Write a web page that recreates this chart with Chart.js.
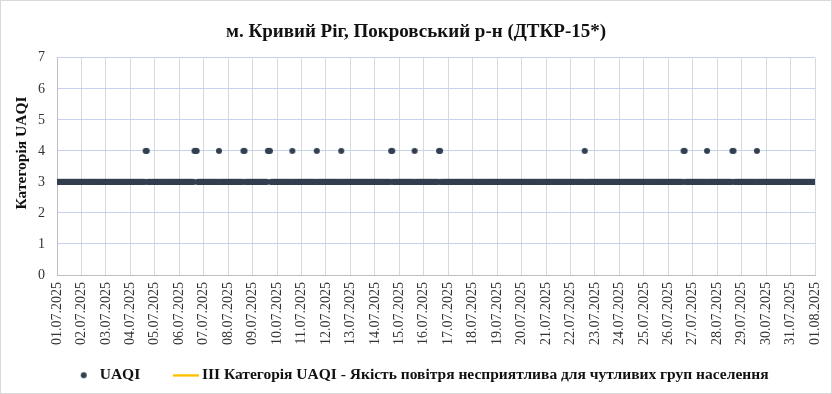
<!DOCTYPE html>
<html>
<head>
<meta charset="utf-8">
<script src="https://cdn.jsdelivr.net/npm/chart.js@4.4.1/dist/chart.umd.min.js"></script>
<style>
  body { margin: 0; background: #fff; }
  #wrap { width: 832px; height: 394px; box-sizing: border-box; border: 1px solid #d9d9d9; }
</style>
</head>
<body>
<div id="wrap"><canvas id="myChart" width="830" height="392"></canvas></div>
<script>
// tick labels of the x axis, one per day (00:00)
const dateLabels = [
  '01.07.2025', '02.07.2025', '03.07.2025', '04.07.2025', '05.07.2025', '06.07.2025',
  '07.07.2025', '08.07.2025', '09.07.2025', '10.07.2025', '11.07.2025', '12.07.2025',
  '13.07.2025', '14.07.2025', '15.07.2025', '16.07.2025', '17.07.2025', '18.07.2025',
  '19.07.2025', '20.07.2025', '21.07.2025', '22.07.2025', '23.07.2025', '24.07.2025',
  '25.07.2025', '26.07.2025', '27.07.2025', '28.07.2025', '29.07.2025', '30.07.2025',
  '31.07.2025', '01.08.2025'
];

// hourly UAQI category, one string of 24 hours per day (00..23)
const uaqiByDay = [
  '333333333333333333333333', // 01.07
  '333333333333333333333333', // 02.07
  '333333333333333333333333', // 03.07
  '333333333333333443333333', // 04.07
  '333333333333333333333333', // 05.07
  '333333333333333444333333', // 06.07
  '333333333333333433333333', // 07.07
  '333333333333333443333333', // 08.07
  '333333333333333444333333', // 09.07
  '333333333333333433333333', // 10.07
  '333333333333333433333333', // 11.07
  '333333333333333433333333', // 12.07
  '333333333333333333333333', // 13.07
  '333333333333333344333333', // 14.07
  '333333333333333433333333', // 15.07
  '333333333333333443333333', // 16.07
  '333333333333333333333333', // 17.07
  '333333333333333333333333', // 18.07
  '333333333333333333333333', // 19.07
  '333333333333333333333333', // 20.07
  '333333333333333333333333', // 21.07
  '333333333333334333333333', // 22.07
  '333333333333333333333333', // 23.07
  '333333333333333333333333', // 24.07
  '333333333333333333333333', // 25.07
  '333333333333333443333333', // 26.07
  '333333333333334333333333', // 27.07
  '333333333333333443333333', // 28.07
  '333333333333333433333333', // 29.07
  '333333333333333333333333', // 30.07
  '333333333333333333333333'  // 31.07
];
const uaqiLast = 3; // 01.08 00:00

// III category threshold line
const thresholdValue = 3;

const seriesNames = ['UAQI', 'III Категорія UAQI - Якість повітря несприятлива для чутливих груп населення'];
const chartTitle = 'м. Кривий Ріг, Покровський р-н (ДТКР-15*)';
const yTitle = 'Категорія UAQI';

const uaqiPoints = [];
uaqiByDay.forEach(function (day, d) {
  for (let h = 0; h < day.length; h++) {
    uaqiPoints.push({ x: d * 24 + h, y: Number(day[h]) });
  }
});
uaqiPoints.push({ x: uaqiByDay.length * 24, y: uaqiLast });

const lastHour = (dateLabels.length - 1) * 24;

// legend markers
function dotIcon() {
  const c = document.createElement('canvas');
  c.width = 8; c.height = 8;
  const g = c.getContext('2d');
  g.fillStyle = '#333f50';
  g.beginPath(); g.arc(4, 4, 3, 0, Math.PI * 2); g.fill();
  return c;
}
function lineIcon() {
  const c = document.createElement('canvas');
  c.width = 26; c.height = 4;
  const g = c.getContext('2d');
  g.fillStyle = '#ffc000';
  g.fillRect(0, 1, 26, 2.5);
  return c;
}

const serif = '"Liberation Serif", "Times New Roman", serif';

// y axis title, placed a bit above the middle like the original
const yTitlePlugin = {
  id: 'yTitle',
  afterLayout: function (chart) {
    // legend sits a little right of centre in the original
    chart.legend.left += 6;
    chart.legend.right += 6;
  },
  afterDraw: function (chart) {
    const c = chart.ctx;
    c.save();
    c.translate(21, 152);
    c.rotate(-Math.PI / 2);
    c.font = 'bold 15.5px ' + serif;
    c.fillStyle = '#111';
    c.textAlign = 'center';
    c.textBaseline = 'middle';
    c.fillText(yTitle, 0, 0);
    c.restore();
  }
};

const ctx = document.getElementById('myChart');
new Chart(ctx, {
  type: 'line',
  data: {
    datasets: [{
      label: seriesNames[0],
      data: uaqiPoints,
      showLine: false,
      pointRadius: 3,
      pointHoverRadius: 3,
      pointBorderWidth: 0,
      pointBackgroundColor: '#333f50',
      borderColor: '#333f50',
      pointStyle: dotIcon()
    }, {
      label: seriesNames[1],
      data: [{ x: 0, y: thresholdValue }, { x: lastHour, y: thresholdValue }],
      borderColor: '#ffc000',
      borderWidth: 2.5,
      pointRadius: 0,
      pointStyle: lineIcon()
    }]
  },
  options: {
    responsive: false,
    animation: false,
    layout: { padding: 0 },
    plugins: {
      title: {
        display: true,
        text: chartTitle,
        color: '#111',
        font: { family: serif, size: 19, weight: 'bold' },
        padding: { top: 20, bottom: 14 }
      },
      legend: {
        position: 'bottom',
        labels: {
          usePointStyle: true,
          pointStyleWidth: 16.5,
          color: '#111',
          font: { family: serif, size: 15.5, weight: 'bold' },
          padding: 22,
          generateLabels: function (chart) {
            const items = Chart.defaults.plugins.legend.labels.generateLabels(chart);
            items[0].text = items[0].text + '\u2002\u2002'; // wider gap after the first entry
            return items;
          }
        }
      },
      tooltip: { enabled: false }
    },
    scales: {
      x: {
        type: 'linear',
        min: 0,
        max: lastHour,
        afterBuildTicks: function (scale) {
          scale.ticks = dateLabels.map(function (l, i) { return { value: i * 24 }; });
        },
        afterFit: function (scale) {
          scale.height = 70.5;
          scale.paddingLeft = 0;
          scale.paddingRight = 16;
        },
        ticks: {
          autoSkip: false,
          maxRotation: 90,
          minRotation: 90,
          padding: 7,
          color: '#333',
          font: { family: serif, size: 14 },
          callback: function (v) { return dateLabels[Math.round(v / 24)]; }
        },
        grid: { color: '#d9d9d9', drawTicks: false },
        border: { color: '#bfbfbf' }
      },
      y: {
        min: 0,
        max: 7,
        afterFit: function (scale) { scale.width = 56; },
        ticks: {
          stepSize: 1,
          padding: 12,
          color: '#333',
          font: { family: serif, size: 14 }
        },
        grid: { color: '#c5d3ec', drawTicks: false },
        border: { color: '#bfbfbf' }
      }
    }
  },
  plugins: [yTitlePlugin]
});
</script>
</body>
</html>
